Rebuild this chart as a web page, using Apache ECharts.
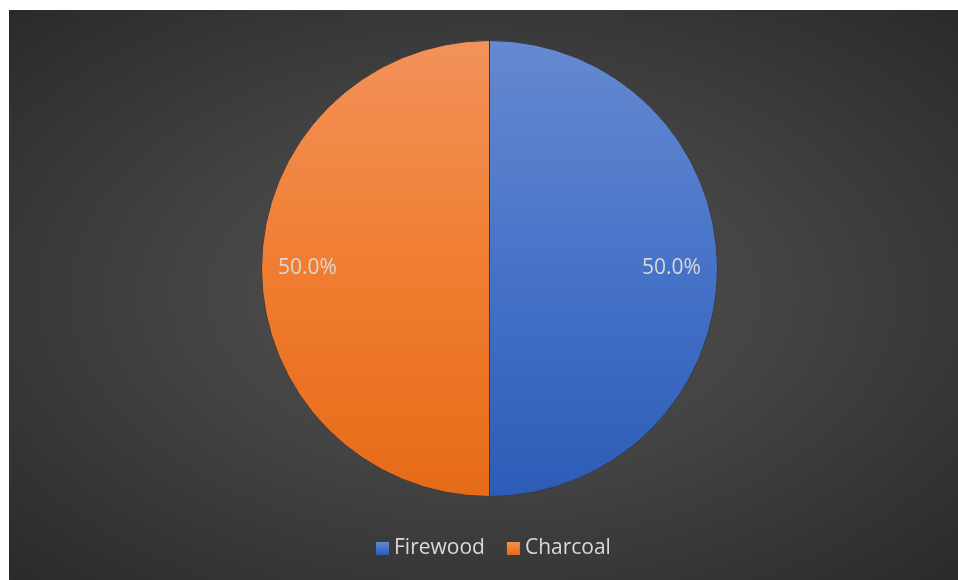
<!DOCTYPE html>
<html><head><meta charset="utf-8">
<script src="https://cdn.jsdelivr.net/npm/echarts@6/dist/echarts.min.js"></script>
<style>
html,body{margin:0;padding:0;background:#fff;width:958px;height:580px;overflow:hidden}
#c{position:absolute;left:9px;top:10px;width:949px;height:570px;
background:radial-gradient(ellipse at 50% 50%, #545454 0%, #434343 45%, #2a2a2a 100%);}
</style></head><body>
<div id="c"></div>
<script>
const categories = ['Firewood', 'Charcoal'];
const values = [50, 50];
const topColors = ['#6689d1', '#f2925a'];
const midColors = ['#4673c8', '#f07d30'];
const bottomColors = ['#2c5cb8', '#e66b18'];

const chart = echarts.init(document.getElementById('c'), null, {renderer:'canvas'});
const font = '"Open Sans", "Noto Sans", sans-serif';
const mainData = categories.map((n,i)=>({
  name:n, value:values[i],
  itemStyle:{color:new echarts.graphic.LinearGradient(0,0,0,1,[
    {offset:0,color:topColors[i]},{offset:0.5,color:midColors[i]},{offset:1,color:bottomColors[i]}])}
}));
const total = values.reduce((a,b)=>a+b,0);
chart.setOption({
  backgroundColor:'transparent',
  animation:false,
  legend:{
    bottom:16, left:362, itemWidth:13, itemHeight:13, itemGap:22, icon:'rect',
    itemStyle:{borderWidth:0, borderColor:'transparent'},
    textStyle:{color:'#d9d9d9', fontSize:21, fontFamily:font},
    data:categories
  },
  series:[{
    type:'pie', center:[480.5,258.5], radius:[0,228], startAngle:90, clockwise:true,
    label:{show:false}, labelLine:{show:false},
    itemStyle:{borderColor:'#3a3a3a', borderWidth:1},
    emphasis:{disabled:true},
    data:mainData
  },{
    type:'pie', center:[480.5,258.5], radius:[130,228], startAngle:90, clockwise:true,
    silent:true, legendHoverLink:false,
    itemStyle:{color:'transparent'},
    label:{show:true, position:'inside', color:'#d9d9d9', fontSize:21, fontFamily:font,
      formatter:p=>(p.value/total*100).toFixed(1)+'%'},
    labelLine:{show:false},
    emphasis:{disabled:true},
    data:categories.map((n,i)=>({name:n+' ', value:values[i]}))
  }]
});
</script></body></html>
